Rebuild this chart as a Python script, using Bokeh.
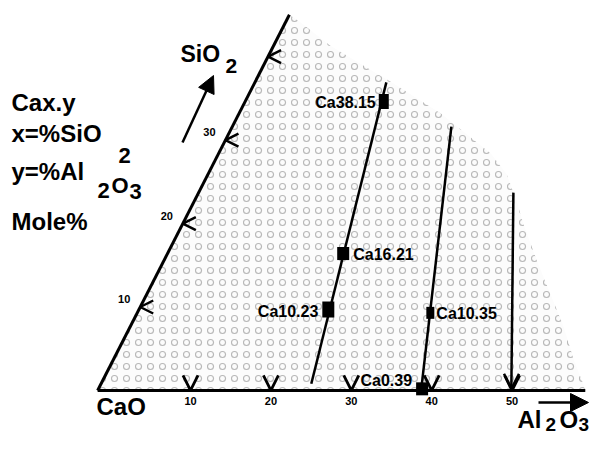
import numpy as np
from bokeh.plotting import figure
from bokeh.models import Range1d, Arrow, NormalHead, OpenHead, Label, ColumnDataSource
from bokeh.core.properties import value
from bokeh.embed import file_html
from bokeh.resources import INLINE

# ---------------- data (mole %) ----------------
compound_labels = ["Ca38.15", "Ca16.21", "Ca10.23", "Ca10.35", "Ca0.39"]
compound_sio2 = [34.6, 16.4, 9.7, 9.3, 0.2]
compound_al2o3 = [15.7, 20.3, 22.0, 34.9, 38.7]

# tie lines: upper end -> lower end
tie_top_sio2 = [36.9, 31.6, 23.7]
tie_top_al2o3 = [14.8, 25.7, 37.6]
tie_bot_sio2 = [0.8, 0.2, 0.2]
tie_bot_al2o3 = [24.6, 38.6, 49.8]

# shaded composition region outline
region_sio2 = [45.0, 44.1, 41.3, 38.7, 36.8, 33.2, 30.3, 28.4, 25.9, 22.6,
               20.1, 15.7, 11.6, 7.7, 3.7, 0.6, 0.0, 0.0]
region_al2o3 = [-1.55, 0.3, 5.5, 11.4, 15.7, 23.5, 28.8, 32.3, 35.6, 38.6,
                40.7, 44.7, 48.6, 52.3, 55.7, 58.6, 59.1, -1.55]

al2o3_ticks = [10, 20, 30, 40, 50]
al2o3_tick_labels = ["10", "20", "30", "40", "50"]
sio2_ticks = [10, 20, 30, 40]
sio2_tick_labels = ["10", "20", "30", ""]

edge_al2o3 = -1.55      # where the SiO2 edge is drawn
al2o3_axis_max = 59.1
sio2_axis_max = 45.0

# ---------------- drawing geometry ----------------
SKEW = 0.53  # horizontal shift per unit SiO2 (slanted SiO2 edge)


def tx(a, s):
    return np.asarray(a, float) + SKEW * np.asarray(s, float)


FONT = "Liberation Sans"
W, H = 590, 436
p = figure(width=W, height=H, min_border=0, toolbar_location=None,
           output_backend="svg", x_axis_location=None, y_axis_location=None,
           x_range=Range1d(-13.63, 59.75), y_range=Range1d(-5.51, 46.71))
p.grid.visible = False
p.outline_line_color = None
p.background_fill_color = "white"

# shaded region
p.patch(tx(region_al2o3, region_sio2), region_sio2, fill_color="#fcfcfc",
        line_color=None, hatch_pattern="ring", hatch_color="#acacac",
        hatch_scale=12, hatch_weight=1.1, hatch_alpha=0.85)

# triangle edges
p.line(tx([edge_al2o3, al2o3_axis_max], [0, 0]), [0, 0], line_color="black", line_width=3)
p.line(tx([edge_al2o3, edge_al2o3], [0, sio2_axis_max]), [0, sio2_axis_max],
       line_color="black", line_width=3)

# tick marks (open arrow heads)
bt_x = tx(al2o3_ticks, [0] * 5)
bt = ColumnDataSource(dict(xs=bt_x, ys=[1.5] * 5, xe=bt_x, ye=[0] * 5))
p.add_layout(Arrow(end=OpenHead(size=15, line_width=2.8, line_color="black"),
                   x_start="xs", y_start="ys", x_end="xe", y_end="ye",
                   source=bt, line_alpha=0))
lt_x = tx([edge_al2o3] * 4, sio2_ticks)
lt = ColumnDataSource(dict(xs=lt_x + 1.5, ys=sio2_ticks, xe=lt_x, ye=sio2_ticks))
p.add_layout(Arrow(end=OpenHead(size=13, line_width=2.5, line_color="black"),
                   x_start="xs", y_start="ys", x_end="xe", y_end="ye",
                   source=lt, line_alpha=0))

# tick labels
p.text(bt_x, [0] * 5, text=al2o3_tick_labels,
       text_font=value(FONT), text_font_style="bold", text_font_size="11px",
       text_align="center", text_baseline="middle", y_offset=11)
p.text(lt_x, sio2_ticks, text=sio2_tick_labels,
       text_font=value(FONT), text_font_style="bold", text_font_size="11px",
       text_align="center", text_baseline="middle", x_offset=-16, y_offset=-8)

# tie lines
p.segment(tx(tie_top_al2o3[:2], tie_top_sio2[:2]), tie_top_sio2[:2],
          tx(tie_bot_al2o3[:2], tie_bot_sio2[:2]), tie_bot_sio2[:2],
          line_color="black", line_width=2.5)
p.add_layout(Arrow(end=OpenHead(size=15, line_width=2.5, line_color="black"),
                   x_start=float(tx(tie_top_al2o3[2], tie_top_sio2[2])), y_start=tie_top_sio2[2],
                   x_end=float(tx(tie_bot_al2o3[2], tie_bot_sio2[2])), y_end=tie_bot_sio2[2],
                   line_width=2.5, line_color="black"))

# compounds
sq_w = [10, 12, 12, 8, 12]
sq_h = [15, 13, 16, 12, 13]
cx = tx(compound_al2o3, compound_sio2)
p.rect(cx, compound_sio2, width=sq_w, height=sq_h, width_units="screen",
       height_units="screen", fill_color="black", line_color=None)
lab_align = ["right", "left", "right", "left", "right"]
lab_dx = [-8, 10, -10, 6, -10]
lab_dy = [1, 1, 2, 1, -8]
for i, t in enumerate(compound_labels):
    p.text([cx[i]], [compound_sio2[i]], text=[t], text_font=value(FONT),
           text_font_style="bold", text_font_size="16px", text_align=lab_align[i],
           text_baseline="middle", x_offset=lab_dx[i], y_offset=lab_dy[i])


def lab(text, px, py, size="24px"):
    # px: left edge, py: vertical centre of the glyphs (picture pixels)
    p.add_layout(Label(x=px, y=H - py, x_units="screen", y_units="screen",
                       text=text, text_font=FONT, text_font_style="bold",
                       text_font_size=size, text_color="black",
                       text_baseline="middle"))


lab("Cax.y", 11, 102)
lab("x=%SiO", 11, 133)
lab("2", 118, 155, "22px")
lab("y=%Al", 11, 171)
lab("2", 97, 190, "22px")
lab("O", 111, 185, "22px")
lab("3", 129, 191, "22px")
lab("Mole%", 11, 221)
lab("SiO", 180, 53, "23px")
lab("2", 225, 65, "21px")
lab("CaO", 96, 406)
lab("Al", 517, 419)
lab("2", 545, 424, "19px")
lab("O", 559, 419)
lab("3", 578, 424, "19px")

# direction arrows
p.add_layout(Arrow(end=NormalHead(size=17, fill_color="black", line_color="black"),
                   x_start=182, y_start=H - 142, x_end=213, y_end=H - 75,
                   start_units="screen", end_units="screen",
                   line_width=2.5, line_color="black"))
p.add_layout(Arrow(end=NormalHead(size=18, fill_color="black", line_color="black"),
                   x_start=538, y_start=H - 402, x_end=588, y_end=H - 402,
                   start_units="screen", end_units="screen",
                   line_width=2.5, line_color="black"))

open("out.html", "w").write(file_html(p, INLINE))
